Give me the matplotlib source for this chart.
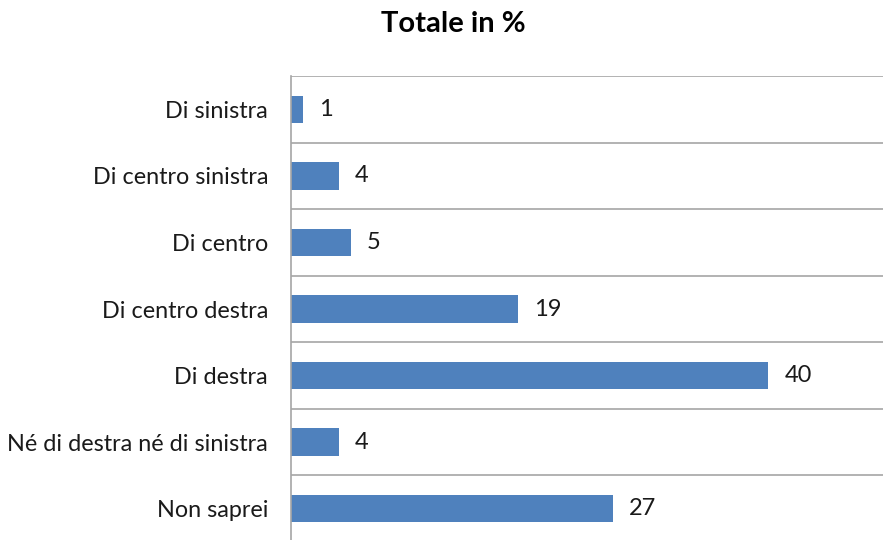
import matplotlib
matplotlib.use("Agg")
import matplotlib.pyplot as plt

# Dati del grafico
categorie = ["Di sinistra", "Di centro sinistra", "Di centro", "Di centro destra",
             "Di destra", "Né di destra né di sinistra", "Non saprei"]
valori = [1, 4, 5, 19, 40, 4, 27]

plt.rcParams['font.family'] = ['Lato', 'DejaVu Sans']

fig = plt.figure(figsize=(8.83, 5.4), dpi=100)
ax = fig.add_axes([291 / 883, -2 / 540, 1 - 291 / 883, 466 / 540])

pos = list(range(len(categorie)))
ax.barh(pos, valori, height=0.41, color="#4F81BD")

ax.set_xlim(0, 49.6)
ax.set_ylim(len(categorie) - 0.5, -0.5)

# linee di separazione tra le categorie
ax.set_yticks(pos)
ax.set_yticklabels(categorie, fontsize=16.8, color="#1a1a1a")
ax.set_yticks([p - 0.5 for p in pos], minor=True)
ax.grid(True, which="minor", axis="y", color="#A6A6A6", linewidth=1.2)
ax.tick_params(axis="y", which="both", length=0, pad=16.5)
ax.set_xticks([])

for s in ["right", "bottom", "top"]:
    ax.spines[s].set_visible(False)
ax.spines["left"].set_color("#A6A6A6")
ax.spines["left"].set_linewidth(1.2)

# etichette dei valori
for p, v in zip(pos, valori):
    ax.annotate(str(v), (v, p), xytext=(11.5, 0), textcoords="offset points",
                va="center", ha="left", fontsize=17, color="#1a1a1a")

fig.text(453 / 883, 1 - 24 / 540, "Totale in %", ha="center", va="center",
         fontsize=21, fontweight="bold", color="#000000")

fig.savefig("out.png", dpi=100)
